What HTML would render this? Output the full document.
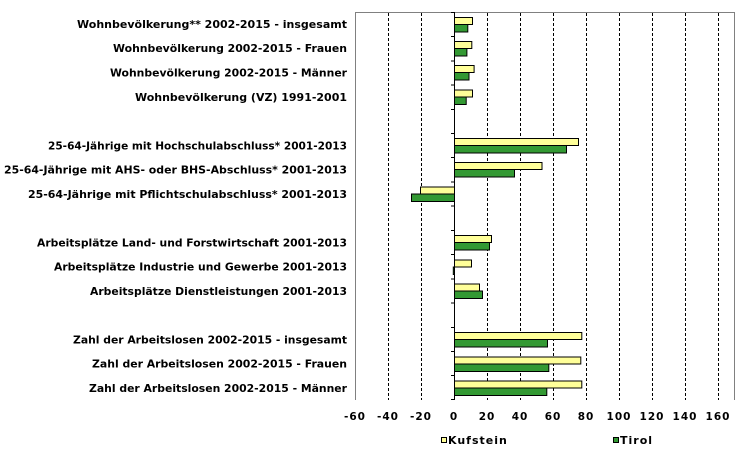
<!DOCTYPE html>
<html><head><meta charset="utf-8"><style>
body{margin:0;background:#fff;}
svg{display:block;}
text{font-family:"DejaVu Sans","Liberation Sans",sans-serif;font-weight:bold;font-size:10.5px;fill:#000;}
.tk{letter-spacing:1px;font-size:11px;}
</style></head><body>
<svg width="755" height="458" viewBox="0 0 755 458" xmlns="http://www.w3.org/2000/svg">
<path d="M355.5 400 V12.5 H734.5 V400" fill="none" stroke="#808080" stroke-width="1"/>
<g stroke="#000" stroke-width="1" stroke-dasharray="3,2">
<line x1="388.5" y1="13" x2="388.5" y2="400"/>
<line x1="421.5" y1="13" x2="421.5" y2="400"/>
<line x1="487.5" y1="13" x2="487.5" y2="400"/>
<line x1="520.5" y1="13" x2="520.5" y2="400"/>
<line x1="553.5" y1="13" x2="553.5" y2="400"/>
<line x1="586.5" y1="13" x2="586.5" y2="400"/>
<line x1="619.5" y1="13" x2="619.5" y2="400"/>
<line x1="652.5" y1="13" x2="652.5" y2="400"/>
<line x1="685.5" y1="13" x2="685.5" y2="400"/>
<line x1="718.5" y1="13" x2="718.5" y2="400"/>
</g>
<g stroke="#000" stroke-width="1">
<rect x="454.5" y="17.5" width="18" height="7" fill="#ffff99"/>
<rect x="454.5" y="24.5" width="13.3" height="7.5" fill="#339933"/>
<rect x="454.5" y="41.5" width="17.3" height="7" fill="#ffff99"/>
<rect x="454.5" y="48.5" width="12.4" height="7.5" fill="#339933"/>
<rect x="454.5" y="65.5" width="19.6" height="7" fill="#ffff99"/>
<rect x="454.5" y="72.5" width="14.5" height="7.5" fill="#339933"/>
<rect x="454.5" y="90" width="18" height="7" fill="#ffff99"/>
<rect x="454.5" y="97" width="11.7" height="7.5" fill="#339933"/>
<rect x="454.5" y="138.5" width="124" height="7" fill="#ffff99"/>
<rect x="454.5" y="145.5" width="112" height="7.5" fill="#339933"/>
<rect x="454.5" y="162.5" width="87.5" height="7" fill="#ffff99"/>
<rect x="454.5" y="169.5" width="60" height="7.5" fill="#339933"/>
<rect x="420.5" y="187" width="34" height="7" fill="#ffff99"/>
<rect x="411.5" y="194" width="43" height="7.5" fill="#339933"/>
<rect x="454.5" y="235.5" width="37" height="7" fill="#ffff99"/>
<rect x="454.5" y="242.5" width="35" height="7.5" fill="#339933"/>
<rect x="454.5" y="260" width="17" height="7" fill="#ffff99"/>
<rect x="453.3" y="267" width="1.2" height="7.5" fill="#339933"/>
<rect x="454.5" y="284" width="25" height="7" fill="#ffff99"/>
<rect x="454.5" y="291" width="28" height="7.5" fill="#339933"/>
<rect x="454.5" y="332.5" width="127.3" height="7" fill="#ffff99"/>
<rect x="454.5" y="339.5" width="93" height="7.5" fill="#339933"/>
<rect x="454.5" y="357" width="126.3" height="7" fill="#ffff99"/>
<rect x="454.5" y="364" width="94.3" height="7.5" fill="#339933"/>
<rect x="454.5" y="381" width="127.3" height="7" fill="#ffff99"/>
<rect x="454.5" y="388" width="92.3" height="7.5" fill="#339933"/>
</g>
<g stroke="#000" stroke-width="1">
<line x1="454.5" y1="12" x2="454.5" y2="400"/>
<line x1="451" y1="12.5" x2="454.5" y2="12.5"/>
<line x1="451" y1="36.5" x2="454.5" y2="36.5"/>
<line x1="451" y1="61" x2="454.5" y2="61"/>
<line x1="451" y1="85" x2="454.5" y2="85"/>
<line x1="451" y1="109.5" x2="454.5" y2="109.5"/>
<line x1="451" y1="133.5" x2="454.5" y2="133.5"/>
<line x1="451" y1="157.5" x2="454.5" y2="157.5"/>
<line x1="451" y1="182" x2="454.5" y2="182"/>
<line x1="451" y1="206" x2="454.5" y2="206"/>
<line x1="451" y1="230.5" x2="454.5" y2="230.5"/>
<line x1="451" y1="254.5" x2="454.5" y2="254.5"/>
<line x1="451" y1="279" x2="454.5" y2="279"/>
<line x1="451" y1="303" x2="454.5" y2="303"/>
<line x1="451" y1="327.5" x2="454.5" y2="327.5"/>
<line x1="451" y1="351.5" x2="454.5" y2="351.5"/>
<line x1="451" y1="375.5" x2="454.5" y2="375.5"/>
<line x1="451" y1="399.5" x2="454.5" y2="399.5"/>
</g>
<g text-anchor="end">
<text x="347" y="28" textLength="270" lengthAdjust="spacingAndGlyphs">Wohnbevölkerung** 2002-2015 - insgesamt</text>
<text x="347" y="52" textLength="234" lengthAdjust="spacingAndGlyphs">Wohnbevölkerung 2002-2015 - Frauen</text>
<text x="347" y="76.5" textLength="237" lengthAdjust="spacingAndGlyphs">Wohnbevölkerung 2002-2015 - Männer</text>
<text x="347" y="101" textLength="212" lengthAdjust="spacingAndGlyphs">Wohnbevölkerung (VZ) 1991-2001</text>
<text x="347" y="149.5" textLength="299" lengthAdjust="spacingAndGlyphs">25-64-Jährige mit Hochschulabschluss* 2001-2013</text>
<text x="347" y="173.5" textLength="343" lengthAdjust="spacingAndGlyphs">25-64-Jährige mit AHS- oder BHS-Abschluss* 2001-2013</text>
<text x="347" y="198" textLength="319" lengthAdjust="spacingAndGlyphs">25-64-Jährige mit Pflichtschulabschluss* 2001-2013</text>
<text x="347" y="246.5" textLength="310" lengthAdjust="spacingAndGlyphs">Arbeitsplätze Land- und Forstwirtschaft 2001-2013</text>
<text x="347" y="270.5" textLength="293" lengthAdjust="spacingAndGlyphs">Arbeitsplätze Industrie und Gewerbe 2001-2013</text>
<text x="347" y="295" textLength="257" lengthAdjust="spacingAndGlyphs">Arbeitsplätze Dienstleistungen 2001-2013</text>
<text x="347" y="343.5" textLength="274" lengthAdjust="spacingAndGlyphs">Zahl der Arbeitslosen 2002-2015 - insgesamt</text>
<text x="347" y="367.5" textLength="255" lengthAdjust="spacingAndGlyphs">Zahl der Arbeitslosen 2002-2015 - Frauen</text>
<text x="347" y="392" textLength="258" lengthAdjust="spacingAndGlyphs">Zahl der Arbeitslosen 2002-2015 - Männer</text>
</g>
<g text-anchor="middle" class="tk">
<text x="355" y="420">-60</text>
<text x="388" y="420">-40</text>
<text x="421" y="420">-20</text>
<text x="454" y="420">0</text>
<text x="487" y="420">20</text>
<text x="520" y="420">40</text>
<text x="553" y="420">60</text>
<text x="586" y="420">80</text>
<text x="619" y="420">100</text>
<text x="652" y="420">120</text>
<text x="685" y="420">140</text>
<text x="718" y="420">160</text>
</g>
<rect x="441.5" y="437.5" width="5" height="5" fill="#ffff99" stroke="#000"/>
<text x="448" y="444" class="tk">Kufstein</text>
<rect x="613.5" y="437.5" width="5" height="5" fill="#339933" stroke="#000"/>
<text x="620" y="444" class="tk">Tirol</text>
</svg>
</body></html>
